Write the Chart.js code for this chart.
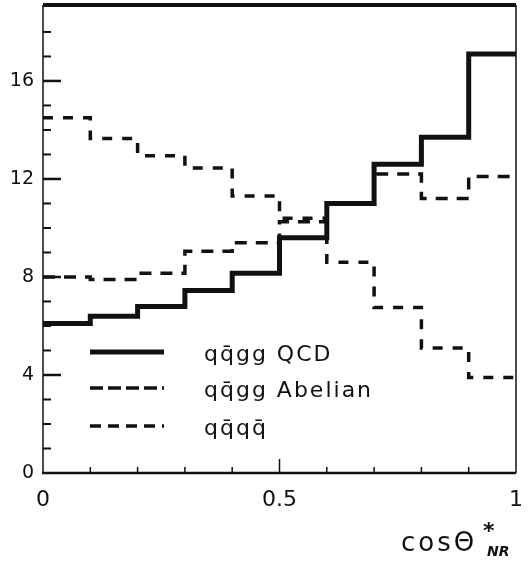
<!DOCTYPE html>
<html>
<head>
<meta charset="utf-8">
<script src="https://cdn.jsdelivr.net/npm/chart.js@4/dist/chart.umd.min.js"></script>
<style>
  html, body { margin: 0; padding: 0; background: #fff; }
  #wrap { width: 532px; height: 562px; }
</style>
</head>
<body>
<div id="wrap"><canvas id="cosChart" width="532" height="562"></canvas></div>
<script>
// bin edges in cos(theta*_NR), 10 bins of width 0.1
const binEdges = [0, 0.1, 0.2, 0.3, 0.4, 0.5, 0.6, 0.7, 0.8, 0.9, 1.0];

// bin contents
const qcdValues     = [6.1, 6.4, 6.8, 7.45, 8.15, 9.6, 11.0, 12.6, 13.7, 17.1];
const abelianValues = [8.0, 7.9, 8.15, 9.05, 9.4, 10.25, 11.0, 12.2, 11.2, 12.1];
const qqqqValues    = [14.5, 13.65, 12.95, 12.45, 11.3, 10.4, 8.6, 6.75, 5.1, 3.9];

const seriesLabels = ['q\u0071\u0304gg QCD', 'q\u0071\u0304gg Abelian', 'q\u0071\u0304q\u0071\u0304'];
const yTickValues = [0, 4, 8, 12, 16];
const xTickValues = [0, 0.5, 1];

const INK = '#111';
const FONT = '"DejaVu Sans", sans-serif';

// histogram as step line: last bin value repeated at the right edge
function toSteps(values) {
    return binEdges.map((x, i) => ({ x: x, y: values[Math.min(i, values.length - 1)] }));
}

/**
 * frame, inward tick marks, legend and axis title
 */
const decorPlugin = {
    id: 'decor',
    afterDatasetsDraw(chart) {
        const ctx = chart.ctx;
        const a = chart.chartArea;
        const xs = chart.scales.x;
        const ys = chart.scales.y;

        ctx.save();
        ctx.strokeStyle = INK;
        ctx.lineCap = 'butt';

        // frame
        ctx.lineWidth = 4;
        ctx.beginPath(); ctx.moveTo(a.left, a.top); ctx.lineTo(a.right, a.top); ctx.stroke();
        ctx.lineWidth = 1.5;
        ctx.beginPath(); ctx.moveTo(a.right, a.top); ctx.lineTo(a.right, a.bottom); ctx.stroke();
        ctx.beginPath(); ctx.moveTo(a.left, a.top); ctx.lineTo(a.left, a.bottom); ctx.stroke();
        ctx.lineWidth = 2.5;
        ctx.beginPath(); ctx.moveTo(a.left - 1, a.bottom); ctx.lineTo(a.right, a.bottom); ctx.stroke();

        // y ticks: every 1, major every 4
        for (let v = 1; v <= 18; v++) {
            const py = ys.getPixelForValue(v);
            const major = v % 4 === 0;
            ctx.lineWidth = major ? 2.5 : 2;
            ctx.beginPath();
            ctx.moveTo(a.left, py);
            ctx.lineTo(a.left + (major ? 18 : 8), py);
            ctx.stroke();
        }

        // x ticks: every 0.1, major at 0.5
        for (let i = 1; i < 10; i++) {
            const px = xs.getPixelForValue(i / 10);
            const major = i === 5;
            ctx.lineWidth = 1.5;
            ctx.beginPath();
            ctx.moveTo(px, a.bottom);
            ctx.lineTo(px, a.bottom - (major ? 14 : 6));
            ctx.stroke();
        }

        // legend
        const legendRows = [352, 388, 426];
        chart.data.datasets.forEach((ds, i) => {
            const y = legendRows[i];
            ctx.lineWidth = ds.borderWidth;
            ctx.setLineDash(ds.legendDash || ds.borderDash || []);
            ctx.beginPath();
            ctx.moveTo(90, y);
            ctx.lineTo(164, y);
            ctx.stroke();
            ctx.setLineDash([]);

            ctx.fillStyle = INK;
            ctx.font = '22px ' + FONT;
            ctx.letterSpacing = '2px';
            ctx.textAlign = 'left';
            ctx.textBaseline = 'middle';
            ctx.fillText(ds.label, 204, y + 3);
        });

        // x axis title: cos Theta*_NR
        ctx.letterSpacing = '3px';
        ctx.textBaseline = 'alphabetic';
        ctx.font = '26px ' + FONT;
        ctx.fillText('cos\u0398', 401, 551);
        ctx.letterSpacing = '0px';
        ctx.font = 'bold 22px ' + FONT;
        ctx.fillText('*', 483, 538);
        ctx.font = 'bold italic 14px ' + FONT;
        ctx.fillText('NR', 487, 556);

        ctx.restore();
    }
};

const datasets = [
    { label: seriesLabels[0], data: toSteps(qcdValues), borderWidth: 5, borderDash: [] },
    { label: seriesLabels[1], data: toSteps(abelianValues), borderWidth: 3.5, borderDash: [12, 9], legendDash: [13, 5] },
    { label: seriesLabels[2], data: toSteps(qqqqValues), borderWidth: 3.5, borderDash: [10, 10], legendDash: [11, 7] }
].map(ds => Object.assign(ds, {
    borderColor: INK,
    backgroundColor: INK,
    stepped: true,
    pointRadius: 0,
    fill: false,
    borderCapStyle: 'butt',
    borderJoinStyle: 'miter'
}));

new Chart(document.getElementById('cosChart'), {
    type: 'line',
    data: { datasets: datasets },
    options: {
        responsive: false,
        animation: false,
        layout: { padding: { top: 5, right: 16, left: 0, bottom: 0 } },
        plugins: {
            legend: { display: false },
            tooltip: { enabled: false }
        },
        scales: {
            x: {
                type: 'linear',
                min: 0,
                max: 1,
                grid: { display: false, drawTicks: false },
                border: { display: false },
                afterFit(scale) {
                    scale.height = 89;
                    scale.paddingLeft = 0;
                    scale.paddingRight = 0;
                },
                afterBuildTicks(scale) { scale.ticks = xTickValues.map(v => ({ value: v })); },
                ticks: {
                    color: INK,
                    padding: 14,
                    maxRotation: 0,
                    font: { family: FONT, size: 22 },
                    callback: v => String(v)
                }
            },
            y: {
                min: 0,
                max: 19.1,
                grid: { display: false, drawTicks: false },
                border: { display: false },
                afterFit(scale) {
                    scale.width = 43;
                    scale.paddingTop = 0;
                    scale.paddingBottom = 0;
                },
                afterBuildTicks(scale) { scale.ticks = yTickValues.map(v => ({ value: v })); },
                ticks: {
                    color: INK,
                    padding: 9,
                    font: { family: FONT, size: 19 },
                    callback: v => String(v)
                }
            }
        }
    },
    plugins: [decorPlugin]
});
</script>
</body>
</html>
